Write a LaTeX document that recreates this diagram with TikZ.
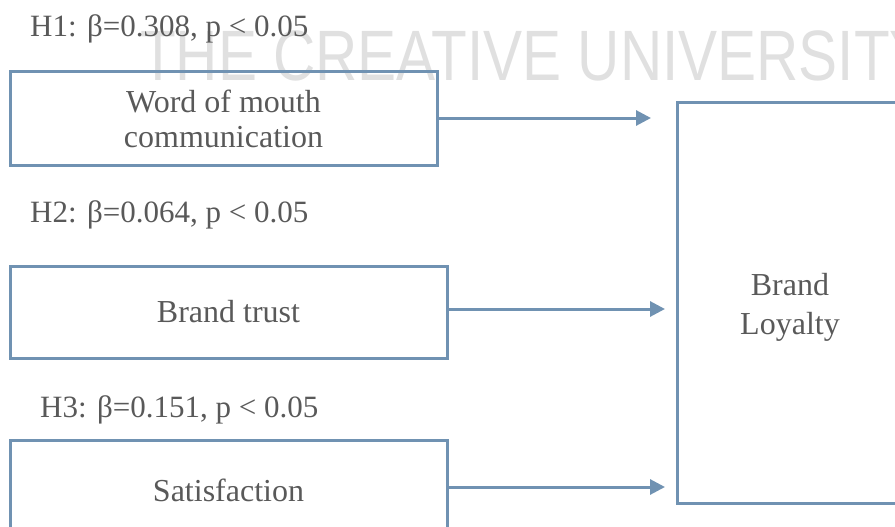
\documentclass[tikz,border=0pt]{standalone}
\usepackage{fontspec}
\setmainfont{Liberation Serif}
\newfontfamily\markfont{Liberation Sans}
\usetikzlibrary{arrows.meta}
\definecolor{linecol}{RGB}{112,146,178}
\definecolor{txtcol}{RGB}{89,89,89}

\begin{document}
\begin{tikzpicture}[x=1pt,y=-1pt,
	box/.style={draw=linecol,line width=3pt,inner sep=0pt,align=center,text=txtcol,font=\fontsize{32}{35}\selectfont},
	hyp/.style={anchor=base west,inner sep=0pt,text=txtcol,font=\fontsize{31}{35}\selectfont},
	arr/.style={draw=linecol,line width=3pt,-{Triangle[length=15pt,width=15pt]}}]
	\useasboundingbox (0,0) rectangle (895,527);

	\node[anchor=west,inner sep=0pt,text=black!12,font=\markfont\fontsize{58.5}{60}\selectfont] (mark) at (140,56) {\scalebox{1}[1.22]{THE CREATIVE UNIVERSITY}};

	\node[hyp] (h1) at (30,37)  {H1: β=0.308, p < 0.05};
	\node[hyp] (h2) at (30,222) {H2: β=0.064, p < 0.05};
	\node[hyp] (h3) at (40,417) {H3: β=0.151, p < 0.05};

	\node[box,minimum width=427pt,minimum height=93pt] (wom)   at (223.5,118.5) {Word of mouth\\communication};
	\node[box,minimum width=437pt,minimum height=92pt] (trust) at (228.5,312)   {Brand trust};
	\node[box,minimum width=437pt,minimum height=100pt] (sat)  at (228.5,490)   {Satisfaction};
	\node[box,minimum width=226pt,minimum height=400pt] (loyal) at (790,303) {};
	\node[text=txtcol,align=center,font=\fontsize{32}{39}\selectfont] (loyaltxt) at (790,307) {Brand\\Loyalty};

	\coordinate (t1) at (651,118);
	\coordinate (t2) at (665,309);
	\coordinate (t3) at (665,487);

	\path[arr] (wom.east |- t1) -- (t1);
	\path[arr] (trust.east |- t2) -- (t2);
	\path[arr] (sat.east |- t3) -- (t3);

\end{tikzpicture}
\end{document}
